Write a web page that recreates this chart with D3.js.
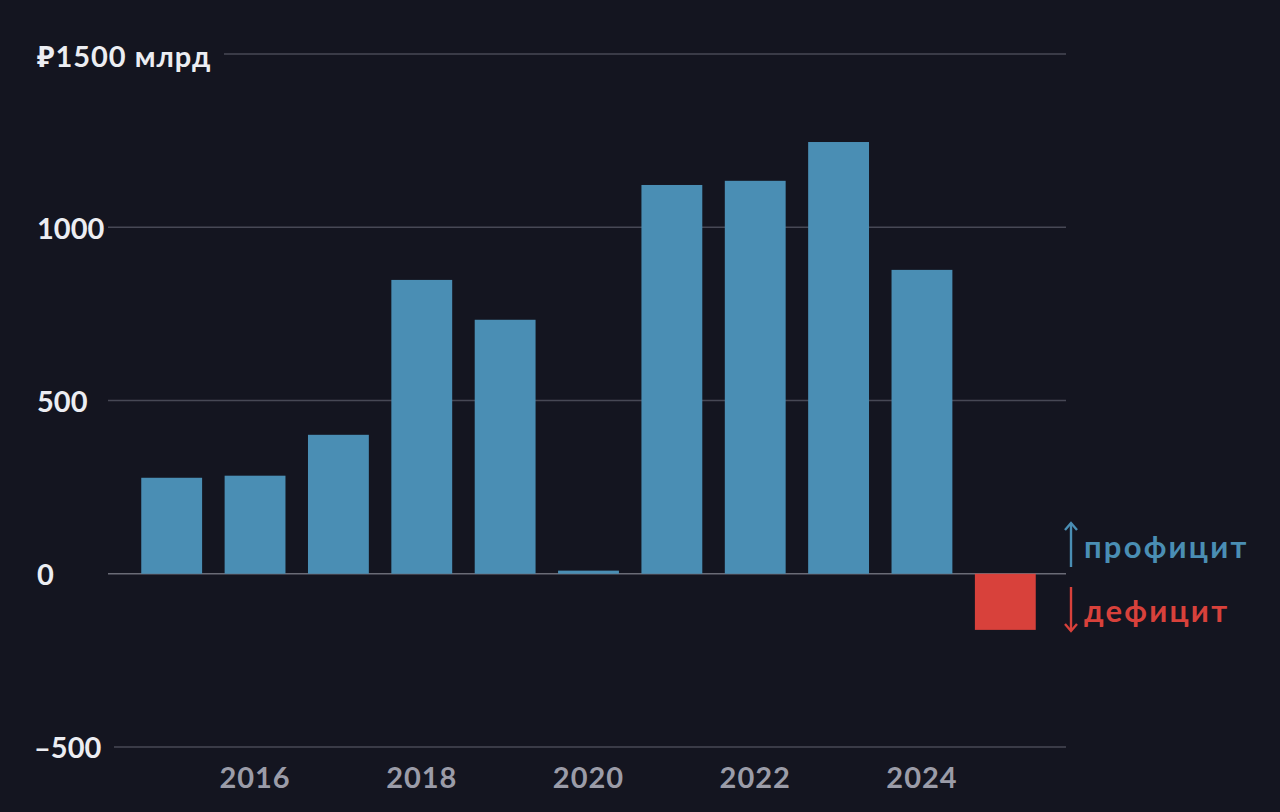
<!DOCTYPE html>
<html>
<head>
<meta charset="utf-8">
<script src="https://cdn.jsdelivr.net/npm/d3@7"></script>
<style>
  html, body { margin: 0; padding: 0; background: #141520; }
  text { font-family: "Lato", "Noto Sans", sans-serif; font-weight: 700; }
</style>
</head>
<body>
<div id="chart"></div>
<script>
// data (billion rubles)
var years = [2015, 2016, 2017, 2018, 2019, 2020, 2021, 2022, 2023, 2024, 2025];
var balance = [277, 283, 401, 848, 733, 9, 1122, 1134, 1246, 877, -162];
var yTicks = [-500, 0, 500, 1000, 1500];
var xTickYears = [2016, 2018, 2020, 2022, 2024];

var width = 1280, height = 812;

var svg = d3.select("#chart")
  .append("svg")
  .attr("width", width)
  .attr("height", height);

svg.append("rect")
  .attr("width", width)
  .attr("height", height)
  .attr("fill", "#141520");

var xScale = d3.scaleBand()
  .domain(years)
  .range([130, 1047])
  .paddingInner(0.27)
  .paddingOuter(0.135);

var yScale = d3.scaleLinear()
  .domain([-500, 1500])
  .range([747, 54]);

// gridlines
svg.append("g")
  .selectAll("line")
  .data(yTicks)
  .enter().append("line")
  .attr("x1", function(d) { return d == 1500 ? 224 : (d == -500 ? 114 : 108); })
  .attr("x2", 1066)
  .attr("y1", function(d) { return yScale(d); })
  .attr("y2", function(d) { return yScale(d); })
  .attr("stroke", function(d) { return d == 0 ? "#6a6b76" : "#474855"; })
  .attr("stroke-width", 1.5);

// y labels
svg.append("g")
  .selectAll("text")
  .data(yTicks)
  .enter().append("text")
  .attr("x", function(d) { return d < 0 ? 34 : 37; })
  .attr("y", function(d) { return yScale(d) + (d == 1500 ? 3 : 1); })
  .attr("dy", "0.36em")
  .attr("fill", "#ecedf2")
  .attr("font-size", "29px")
  .attr("letter-spacing", function(d) { return d == 1500 ? "1px" : "0px"; })
  .text(function(d) {
    if (d == 1500) return "\u20bd1500 млрд";
    if (d < 0) return "\u2013" + Math.abs(d);
    return d;
  });

// bars
svg.append("g")
  .selectAll("rect")
  .data(years)
  .enter().append("rect")
  .attr("x", function(d) { return xScale(d); })
  .attr("width", xScale.bandwidth())
  .attr("y", function(d, i) { return yScale(Math.max(0, balance[i])); })
  .attr("height", function(d, i) { return Math.abs(yScale(balance[i]) - yScale(0)); })
  .attr("fill", function(d, i) { return balance[i] < 0 ? "#d8413b" : "#4a8eb4"; });

// x labels
svg.append("g")
  .selectAll("text")
  .data(xTickYears)
  .enter().append("text")
  .attr("x", function(d) { return xScale(d) + xScale.bandwidth() / 2; })
  .attr("y", 778)
  .attr("dy", "0.36em")
  .attr("text-anchor", "middle")
  .attr("fill", "#9b9ca8")
  .attr("font-size", "29px")
  .attr("letter-spacing", "1px")
  .text(function(d) { return d; });

// legend
var legend = [
  { label: "профицит", color: "#4a8eb4", y: 547, up: true },
  { label: "дефицит", color: "#d8413b", y: 611, up: false }
];

legend.forEach(function(l) {
  var g = svg.append("g");
  var top = l.y - 24, bottom = l.y + 20;
  g.append("line")
    .attr("x1", 1071).attr("x2", 1071)
    .attr("y1", top).attr("y2", bottom)
    .attr("stroke", l.color).attr("stroke-width", 2.4);
  var tip = l.up ? top : bottom;
  var s = l.up ? 1 : -1;
  g.append("path")
    .attr("d", "M1065," + (tip + 7 * s) + " L1071," + tip + " L1077," + (tip + 7 * s))
    .attr("fill", "none")
    .attr("stroke", l.color)
    .attr("stroke-width", 2.4);
  g.append("text")
    .attr("x", 1084)
    .attr("y", l.y)
    .attr("dy", "0.36em")
    .attr("fill", l.color)
    .attr("font-size", "31px")
    .attr("letter-spacing", "2.2px")
    .text(l.label);
});
</script>
</body>
</html>
